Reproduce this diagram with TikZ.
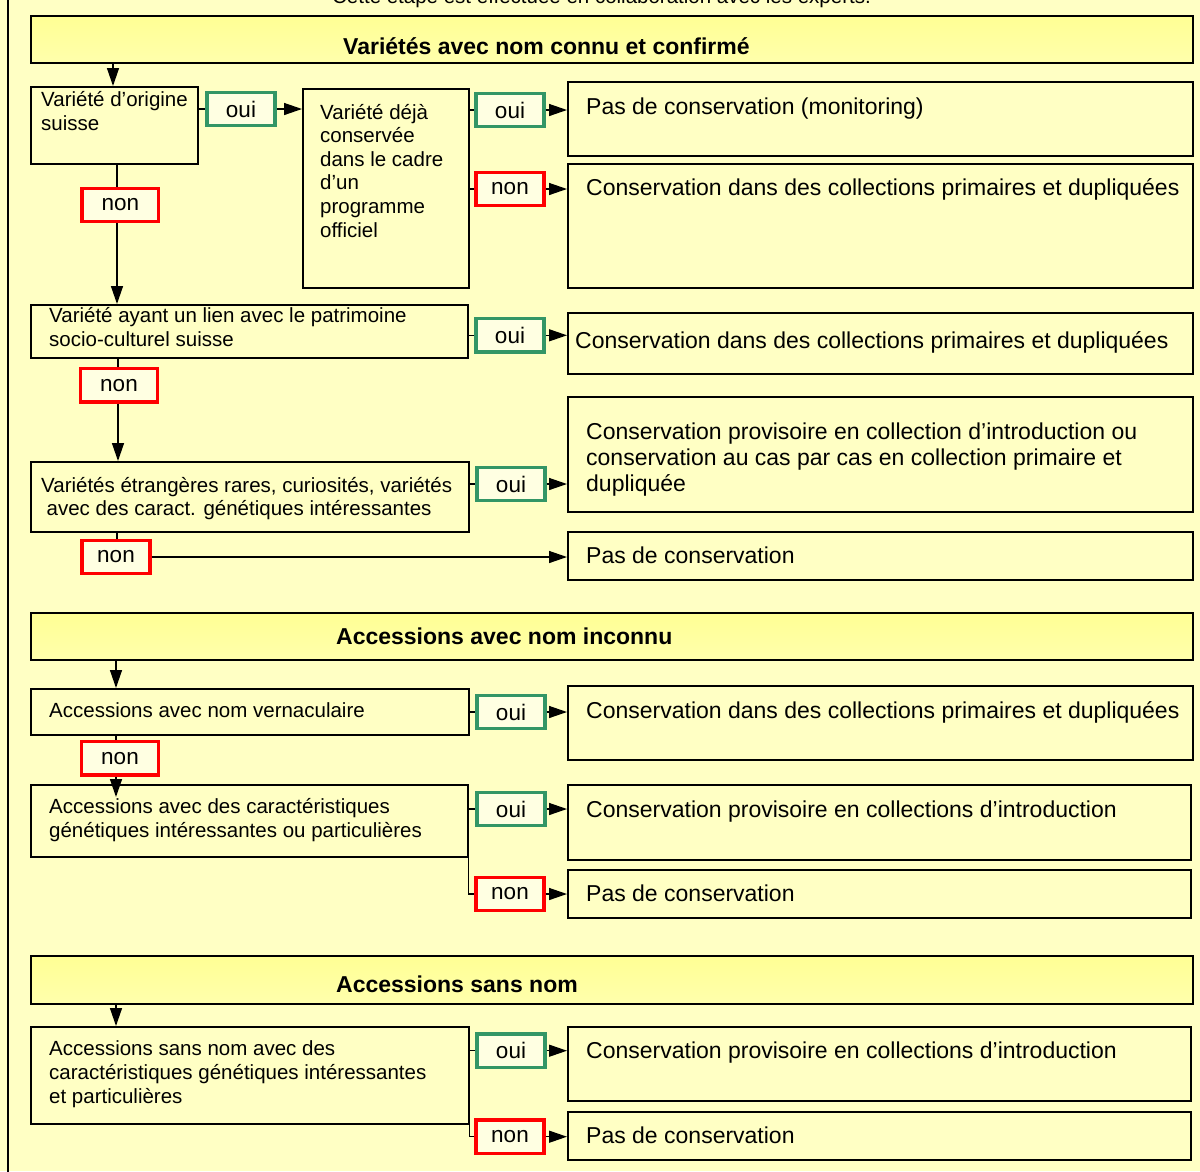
\documentclass[tikz,border=0pt]{standalone}
\usepackage{fontspec}
\setmainfont{Liberation Sans}
\usetikzlibrary{arrows.meta}
\definecolor{bg}{RGB}{255,255,196}
\definecolor{hdrtop}{RGB}{255,255,148}
\definecolor{hdrbot}{RGB}{255,255,172}
\definecolor{lblfill}{RGB}{255,255,226}
\definecolor{ouigreen}{RGB}{51,150,102}
\definecolor{nonred}{RGB}{255,0,0}
\newcommand\mkbox[6]{%
  \pgfmathsetmacro\mkw{#5-#3}\pgfmathsetmacro\mkh{#6-#4}%
  \node[#1, minimum width=\mkw pt, minimum height=\mkh pt, anchor=north west] (#2) at (#3,#4) {};}
\begin{document}
\begin{tikzpicture}[x=1pt,y=-1pt,
  mybox/.style={draw=black, line width=1.6pt, fill=bg, inner sep=0pt},
  hdr/.style={draw=black, line width=1.6pt, top color=hdrtop, bottom color=hdrbot, inner sep=0pt},
  htxt/.style={font=\bfseries\fontsize{23}{26}\selectfont, anchor=base west, inner sep=0pt},
  ltxt/.style={font=\fontsize{20.5}{23.6}\selectfont, align=left, anchor=base west, inner sep=0pt},
  rtxt/.style={font=\fontsize{23}{25.6}\selectfont, align=left, anchor=base west, inner sep=0pt},
  lbl/.style={line width=3.2pt, fill=lblfill, minimum width=68pt, minimum height=33.5pt, inner sep=0pt, font=\fontsize{22.5}{26}\selectfont},
  ouilbl/.style={lbl, draw=ouigreen},
  nonlbl/.style={lbl, draw=nonred},
  nonwide/.style={nonlbl, minimum width=76.5pt},
  conn/.style={line width=1.4pt},
  arr/.style={line width=1.4pt, -{Triangle[length=18pt,width=12pt]}}]
\useasboundingbox (0,0) rectangle (1200,1171);
\fill[bg] (0,0) rectangle (1200,1171);
\draw[line width=2pt] (8.4,-5) -- (8.4,1180);
\node[font=\fontsize{20.5}{24}\selectfont, anchor=base, inner sep=0pt] (toptxt) at (601.5,3.8) {Cette étape est effectuée en collaboration avec les experts.};

% ---------- section 1 (multi-line texts are placed by their last baseline)
\mkbox{hdr}{H1}{30}{15}{1192}{62}
\node[htxt] (tH1) at (343,54) {Variétés avec nom connu et confirmé};
\mkbox{mybox}{L1}{30}{86}{197}{163}
\node[ltxt] (tL1) at (41,130) {Variété d’origine\\suisse};
\mkbox{mybox}{L2}{302}{88}{468}{287}
\node[ltxt] (tL2) at (320,237) {Variété déjà\\conservée\\dans le cadre\\d’un\\programme\\officiel};
\mkbox{mybox}{R1}{567}{81}{1192}{155}
\node[rtxt] (tR1) at (586,114) {Pas de conservation (monitoring)};
\mkbox{mybox}{R2}{567}{163}{1192}{287}
\node[rtxt] (tR2) at (586,195) {Conservation dans des collections primaires et dupliquées};
\mkbox{mybox}{L3}{30}{304}{467}{357}
\node[ltxt] (tL3) at (49,346) {Variété ayant un lien avec le patrimoine\\socio-culturel suisse};
\mkbox{mybox}{R3}{567}{312}{1192}{373}
\node[rtxt] (tR3) at (575,348) {Conservation dans des collections primaires et dupliquées};
\mkbox{mybox}{L4}{30}{461}{468}{531}
\node[ltxt] (tL4) at (41,515.7) {Variétés étrangères rares, curiosités, variétés\\\hspace*{5.5pt}avec des caract. génétiques intéressantes};
\mkbox{mybox}{R4}{567}{396}{1192}{511}
\node[rtxt] (tR4) at (586,491) {Conservation provisoire en collection d’introduction ou\\conservation au cas par cas en collection primaire et\\dupliquée};
\mkbox{mybox}{R5}{567}{531}{1192}{579}
\node[rtxt] (tR5) at (586,563) {Pas de conservation};

% ---------- section 2
\mkbox{hdr}{H2}{30}{612}{1192}{659}
\node[htxt] (tH2) at (336,644) {Accessions avec nom inconnu};
\mkbox{mybox}{L7}{30}{688}{468}{734}
\node[ltxt] (tL7) at (49,717) {Accessions avec nom vernaculaire};
\mkbox{mybox}{R7}{567}{685}{1192}{759}
\node[rtxt] (tR7) at (586,718) {Conservation dans des collections primaires et dupliquées};
\mkbox{mybox}{L8}{30}{784}{467}{856}
\node[ltxt] (tL8) at (49,837) {Accessions avec des caractéristiques\\génétiques intéressantes ou particulières};
\mkbox{mybox}{R8}{567}{784}{1190}{859}
\node[rtxt] (tR8) at (586,817) {Conservation provisoire en collections d’introduction};
\mkbox{mybox}{R8b}{567}{869}{1190}{917}
\node[rtxt] (tR8b) at (586,901) {Pas de conservation};

% ---------- section 3
\mkbox{hdr}{H3}{30}{955}{1192}{1003}
\node[htxt] (tH3) at (336,992) {Accessions sans nom};
\mkbox{mybox}{L11}{30}{1026}{468}{1123}
\node[ltxt] (tL11) at (49,1103) {Accessions sans nom avec des\\caractéristiques génétiques intéressantes\\et particulières};
\mkbox{mybox}{R10}{567}{1026}{1190}{1100}
\node[rtxt] (tR10) at (586,1058) {Conservation provisoire en collections d’introduction};
\mkbox{mybox}{R10b}{567}{1111}{1190}{1159}
\node[rtxt] (tR10b) at (586,1143) {Pas de conservation};

% ---------- labels
\node[ouilbl] (oui1) at (241,109) {oui};
\node[ouilbl] (oui2) at (510,110) {oui};
\node[nonlbl] (non2) at (510,189) {non};
\node[nonwide] (non1) at (120.3,205) {non};
\node[ouilbl] (oui3) at (510,335.3) {oui};
\node[nonwide] (non3) at (119,385.3) {non};
\node[ouilbl] (oui4) at (511,484) {oui};
\node[nonlbl] (non4) at (116,557) {non};
\node[ouilbl] (oui7) at (511,712) {oui};
\node[nonwide] (non7) at (120,758.3) {non};
\node[ouilbl] (oui8) at (511,809) {oui};
\node[nonlbl] (non8) at (510,894) {non};
\node[ouilbl] (oui11) at (511,1050.7) {oui};
\node[nonlbl] (non11) at (510,1136.7) {non};

% ---------- connectors
\coordinate (x113) at (113,0);
\coordinate (x116) at (116,0);
\coordinate (x117) at (117,0);
\coordinate (x118) at (118,0);
\coordinate (n7tip) at (116,797);
\draw[arr] (H1.south -| x113) -- (L1.north -| x113);
\draw[conn] (L1.east |- oui1) -- (oui1.west);
\draw[arr] (oui1.east) -- (L2.west |- oui1);
\draw[conn] (L2.east |- oui2) -- (oui2.west);
\draw[arr] (oui2.east) -- (R1.west |- oui2);
\draw[conn] (L2.east |- non2) -- (non2.west);
\draw[arr] (non2.east) -- (R2.west |- non2);
\draw[conn] (L1.south -| x117) -- (non1.north -| x117);
\draw[arr] (non1.south -| x117) -- (L3.north -| x117);
\draw[conn] (L3.east |- oui3) -- (oui3.west);
\draw[arr] (oui3.east) -- (R3.west |- oui3);
\draw[conn] (L3.south -| x118) -- (non3.north -| x118);
\draw[arr] (non3.south -| x118) -- (L4.north -| x118);
\draw[conn] (L4.east |- oui4) -- (oui4.west);
\draw[arr] (oui4.east) -- (R4.west |- oui4);
\draw[conn] (L4.south -| x117) -- (non4.north -| x117);
\draw[arr] (non4.east) -- (R5.west |- non4);
\draw[arr] (H2.south -| x116) -- (L7.north -| x116);
\draw[conn] (L7.east |- oui7) -- (oui7.west);
\draw[arr] (oui7.east) -- (R7.west |- oui7);
\draw[conn] (L7.south -| x116) -- (non7.north -| x116);
\draw[arr] (non7.south -| x116) -- (n7tip);
\draw[conn] (L8.east |- oui8) -- (oui8.west);
\draw[arr] (oui8.east) -- (R8.west |- oui8);
\draw[conn] (L8.south east) |- (non8.west);
\draw[arr] (non8.east) -- (R8b.west |- non8);
\draw[arr] (H3.south -| x116) -- (L11.north -| x116);
\draw[conn] (L11.east |- oui11) -- (oui11.west);
\draw[arr] (oui11.east) -- (R10.west |- oui11);
\draw[conn] (L11.south east) |- (non11.west);
\draw[arr] (non11.east) -- (R10b.west |- non11);
\end{tikzpicture}
\end{document}
